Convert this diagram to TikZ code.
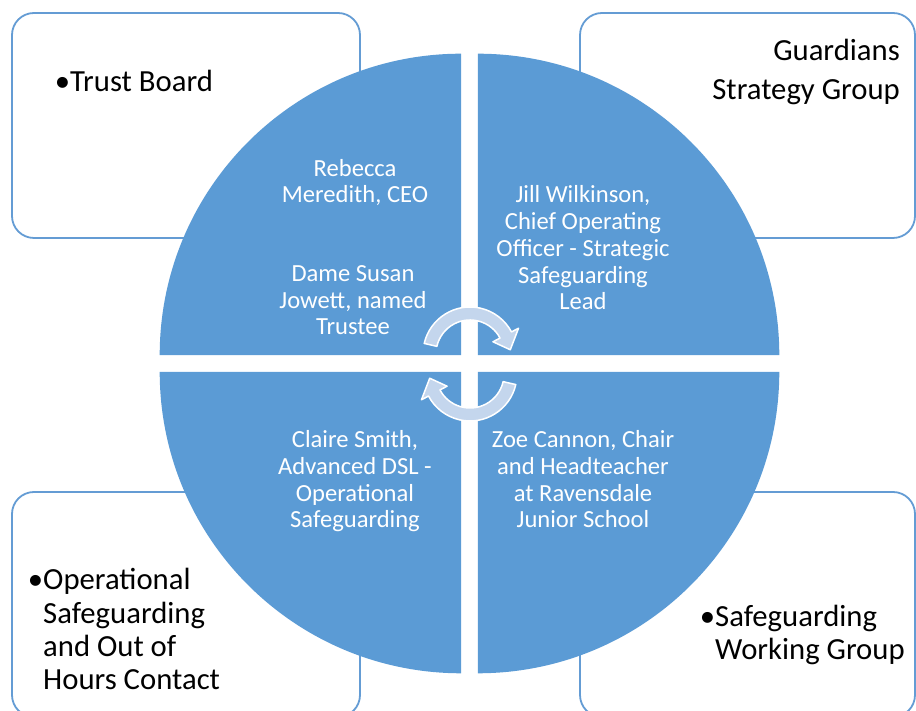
\documentclass[tikz,border=0pt]{standalone}
\usepackage{fontspec}
\setmainfont{Carlito}
\definecolor{quadblue}{RGB}{91,155,213}
\definecolor{boxline}{RGB}{100,156,212}
\definecolor{arrowfill}{RGB}{196,214,237}
\begin{document}
\begin{tikzpicture}[line cap=round,line join=round,x=1pt,y=1pt,
  panel/.style={draw=boxline,line width=1.8pt,rounded corners=22pt,fill=white},
  quad/.style={fill=quadblue},
  cyclearrow/.style={fill=arrowfill,draw=white,line width=1.5pt},
  namelabel/.style={text=white,align=center,anchor=base,inner sep=0pt,font=\fontsize{24.6}{26.8}\selectfont},
  grouplabel/.style={text=black,align=left,anchor=base west,inner sep=0pt,font=\fontsize{30.7}{33.4}\selectfont}]
\useasboundingbox (0,0) rectangle (916,711);
\clip (0,0) rectangle (916,711);

% group boxes
\draw [panel] (12,698) rectangle (360,473);
\draw [panel] (580,698) rectangle (915,473);
\draw [panel] (12,219) rectangle (360,-6);
\draw [panel] (580,219) rectangle (915,-6);

% quadrants
\fill [quad] (461.2,355.8) -- ++(-301.5,0) arc (180:90:301.5) -- cycle;
\fill [quad] (477.8,355.8) -- ++(301.5,0) arc (0:90:301.5) -- cycle;
\fill [quad] (461.2,339.2) -- ++(-301.5,0) arc (180:270:301.5) -- cycle;
\fill [quad] (477.8,339.2) -- ++(301.5,0) arc (0:-90:301.5) -- cycle;

% cycle arrows
\begin{scope}[shift={(470,357)}]
\filldraw [cyclearrow] (167:47) arc (167:28:47) -- (28:55) -- (6:40.5) -- (28:26) -- (28:34) arc (28:167:34) -- cycle;
\end{scope}
\begin{scope}[shift={(470,337)},rotate=180]
\filldraw [cyclearrow] (167:47) arc (167:28:47) -- (28:55) -- (6:40.5) -- (28:26) -- (28:34) arc (28:167:34) -- cycle;
\end{scope}

% names
\node [namelabel] (ceo) at (355,508) {Rebecca\\Meredith, CEO};
\node [namelabel] (trustee) at (353,376) {Dame Susan\\Jowett, named\\Trustee};
\node [namelabel] (coo) at (583,401) {Jill Wilkinson,\\Chief Operating\\Officer - Strategic\\Safeguarding\\Lead};
\node [namelabel] (dsl) at (355,183) {Claire Smith,\\Advanced DSL -\\Operational\\Safeguarding};
\node [namelabel] (chair) at (583,183) {Zoe Cannon, Chair\\and Headteacher\\at Ravensdale\\Junior School};

% groups
\node [grouplabel] (board) at (70,619) {\llap{•}Trust Board};
\node [grouplabel,align=right,anchor=base east,font=\fontsize{30.7}{39.5}\selectfont] (strategy) at (900,611) {Guardians\\Strategy Group};
\node [grouplabel] (operational) at (43,21) {\llap{•}Operational\\Safeguarding\\and Out of\\Hours Contact};
\node [grouplabel] (working) at (715,51) {\llap{•}Safeguarding\\Working Group};
\end{tikzpicture}
\end{document}
